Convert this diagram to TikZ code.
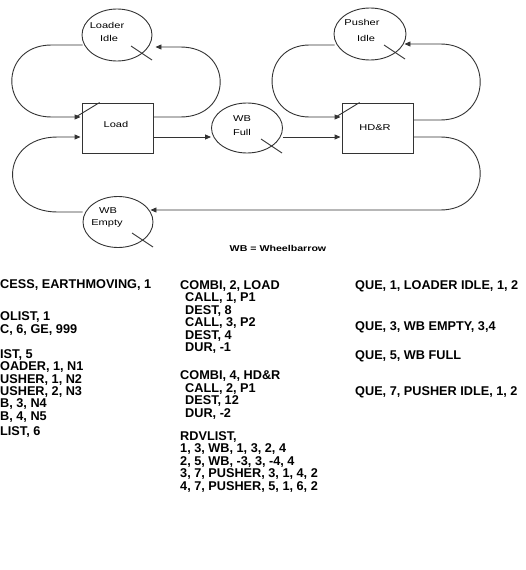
\documentclass[tikz,border=0pt]{standalone}
\usepackage{fontspec}
\setmainfont{Liberation Sans}
\newfontfamily\labfont[FakeStretch=1.3]{Liberation Sans}
\newfontfamily\notefont[FakeStretch=1.25]{Liberation Sans}
\usetikzlibrary{shapes.geometric,arrows.meta,calc}
\begin{document}
\begin{tikzpicture}[x=1pt,y=-1pt,
  ln/.style={line width=0.9pt, draw=black!80},
  arr/.style={ln, -{Triangle[length=6pt,width=5pt]}},
  queue/.style={ellipse, draw=black!80, line width=0.9pt, inner sep=0pt},
  combi/.style={rectangle, draw=black!80, line width=0.9pt, inner sep=0pt, minimum width=71pt, minimum height=50pt},
  lab/.style={font=\labfont\fontsize{8.5}{9}\selectfont, inner sep=0pt},
  code/.style={font=\fontsize{12.7}{13}\selectfont\bfseries, anchor=west, inner sep=0pt},
]
\useasboundingbox (0,0) rectangle (525,570);

% --- network nodes ---
\node[queue, minimum width=70pt, minimum height=52pt] (li) at (117,35) {};
\node[combi] (load) at (117.5,128) {};
\node[queue, minimum width=71pt, minimum height=50pt] (wbf) at (247,128) {};
\node[combi] (hdr) at (377.5,128) {};
\node[queue, minimum width=72pt, minimum height=52pt] (pi) at (370,34) {};
\node[queue, minimum width=70pt, minimum height=51pt] (wbe) at (118,222) {};

% --- labels ---
\node[lab] (liA) at (107,25) {Loader};
\node[lab] (liB) at (109,38) {Idle};
\node[lab] (loadL) at (116,124) {Load};
\node[lab] (wbfA) at (242,119) {WB};
\node[lab] (wbfB) at (242,132) {Full};
\node[lab] (hdrL) at (375,128) {HD\&R};
\node[lab] (piA) at (362,22) {Pusher};
\node[lab] (piB) at (366,38) {Idle};
\node[lab] (wbeA) at (108,211) {WB};
\node[lab] (wbeB) at (107,223) {Empty};
\node[font=\notefont\bfseries\fontsize{8.5}{9}\selectfont, inner sep=0pt] (note) at (278,248) {WB = Wheelbarrow};

% --- combi slashes ---
\draw[ln] ($(load.north west)+(-5,14)$) -- ($(load.north west)+(18,0)$);
\draw[ln] ($(hdr.north west)+(-5,14)$) -- ($(hdr.north west)+(18,0)$);

% --- queue crosses ---
\foreach \q in {li,wbf,pi,wbe}
  \draw[ln] ($(\q.center)+(14,11)$) -- ($(\q.center)+(35,25)$);

% --- connectors ---
% Load -> Loader Idle
\draw[arr] ($(load.east)+(0,-11)$) -- ++(27,0)
  .. controls +(53,0) and +(53,0) .. ++(0,-70) -- ($(li.east)+(3,12)$);
% Loader Idle -> Load
\draw[arr] ($(li.west)+(1,10)$) -- ++(-31,0)
  .. controls +(-53,0) and +(-53,0) .. ++(0,72) -- ($(load.west)+(-1,-11)$);
% WB Empty -> Load
\draw[arr] ($(wbe.west)+(0,-10)$) -- ++(-25,0)
  .. controls +(-60,0) and +(-60,0) .. ++(0,-75) -- ($(load.west)+(-1,9)$);
% Load -> WB Full
\draw[arr] ($(load.east)+(0,9)$) -- ($(wbf.west)+(0,9)$);
% WB Full -> HD&R
\draw[arr] ($(wbf.east)+(0,9)$) -- ($(hdr.west)+(-1,9)$);
% HD&R -> Pusher Idle
\draw[arr] ($(hdr.east)+(0,-8)$) -- ++(27,0)
  .. controls +(53,0) and +(53,0) .. ++(0,-76) -- ($(pi.east)+(-2,10)$);
% Pusher Idle -> HD&R
\draw[arr] ($(pi.west)+(1,11)$) -- ++(-25,0)
  .. controls +(-50,0) and +(-50,0) .. ++(0,72) -- ($(hdr.west)+(-1,-11)$);
% HD&R -> WB Empty
\draw[arr] ($(hdr.east)+(0,9)$) -- ++(27,0)
  .. controls +(53,0) and +(53,0) .. ++(0,73) -- ($(wbe.east)+(-3,-12)$);

% --- code listing, left column ---
\node[code] (l1) at (0,285) {CESS, EARTHMOVING, 1};
\node[code] (l2) at (0,317) {OLIST, 1};
\node[code] (l3) at (0,330) {C, 6, GE, 999};
\node[code] (l4) at (0,355) {IST, 5};
\node[code] (l5) at (0,367) {OADER, 1, N1};
\node[code] (l6) at (0,380) {USHER, 1, N2};
\node[code] (l7) at (0,392) {USHER, 2, N3};
\node[code] (l8) at (0,404) {B, 3, N4};
\node[code] (l9) at (0,417) {B, 4, N5};
\node[code] (l10) at (0,432) {LIST, 6};

% --- middle column ---
\node[code] (m1) at (180,286) {COMBI, 2, LOAD};
\node[code] (m2) at (185,298.5) {CALL, 1, P1};
\node[code] (m3) at (185,311) {DEST, 8};
\node[code] (m4) at (185,323.5) {CALL, 3, P2};
\node[code] (m5) at (185,336) {DEST, 4};
\node[code] (m6) at (185,348.5) {DUR, -1};
\node[code] (m7) at (180,376) {COMBI, 4, HD\&R};
\node[code] (m8) at (185,389) {CALL, 2, P1};
\node[code] (m9) at (185,401.5) {DEST, 12};
\node[code] (m10) at (185,414) {DUR, -2};
\node[code] (m11) at (180,437) {RDVLIST,};
\node[code] (m12) at (180,449.5) {1, 3, WB, 1, 3, 2, 4};
\node[code] (m13) at (180,462) {2, 5, WB, -3, 3, -4, 4};
\node[code] (m14) at (180,474.5) {3, 7, PUSHER, 3, 1, 4, 2};
\node[code] (m15) at (180,487) {4, 7, PUSHER, 5, 1, 6, 2};

% --- right column ---
\node[code] (r1) at (355,286) {QUE, 1, LOADER IDLE, 1, 2};
\node[code] (r2) at (355,327) {QUE, 3, WB EMPTY, 3,4};
\node[code] (r3) at (355,356) {QUE, 5, WB FULL};
\node[code] (r4) at (355,392) {QUE, 7, PUSHER IDLE, 1, 2};
\end{tikzpicture}
\end{document}
